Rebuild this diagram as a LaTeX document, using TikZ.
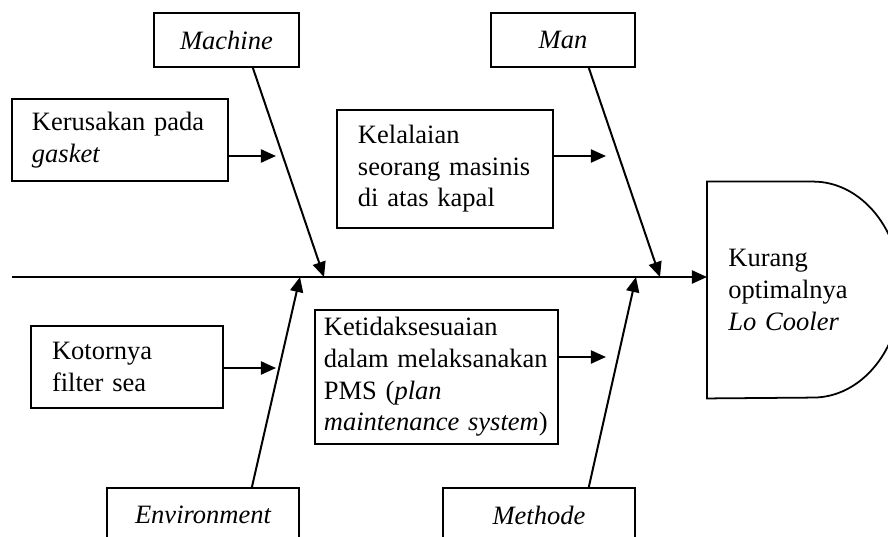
\documentclass[tikz,border=0pt]{standalone}
\usepackage{fontspec}
\setmainfont{Liberation Serif}
\usetikzlibrary{arrows.meta,positioning}

\begin{document}
\begin{tikzpicture}[
    x=0.4528pt, y=-0.4528pt,
    font=\fontsize{12}{14.3}\selectfont,
    category/.style={rectangle, draw, line width=0.8pt, minimum height=24.5pt, inner sep=0pt, font=\fontsize{12}{14.3}\selectfont\itshape},
    cause/.style={rectangle, draw, line width=0.8pt, align=left, inner sep=0pt},
    arrow/.style={-{Triangle[length=6.8pt,width=5.9pt]}, line width=0.9pt}
]
\useasboundingbox (0,0) rectangle (888,536);
\clip (0,0) rectangle (888,536);

% Categories
\node[category, minimum width=65.7pt] (machine) at (226.5,40) {Machine};
\node[category, minimum width=65.2pt] (man) at (563,40) {Man};
\node[category, minimum width=86.9pt] (environment) at (203,515) {Environment};
\node[category, minimum width=86.9pt] (methode) at (539,515) {Methode};

% Causes
\node[cause, minimum width=97.8pt, minimum height=37.1pt, text width=79.7pt] (gasket) at (120,140) {Kerusakan pada\\\textit{gasket}};
\node[cause, minimum width=97.8pt, minimum height=53.4pt, text width=78.8pt] (masinis) at (445,169) {Kelalaian\\seorang masinis\\di atas kapal};
\node[cause, minimum width=86.9pt, minimum height=37.1pt, text width=67.9pt] (filter) at (127,367) {Kotornya\\filter sea};
\node[cause, minimum width=110pt, minimum height=60.7pt, text width=102pt] (pms) at (436.5,377) {Ketidaksesuaian\\dalam melaksanakan\\PMS (\textit{plan}\\\textit{maintenance system})};

% Effect
\node[align=left, anchor=west, inner xsep=9.5pt, inner ysep=0pt, minimum height=97.8pt, text width=56.6pt] (effect) at (707,290) {Kurang\\optimalnya\\\textit{Lo Cooler}};
\draw[line width=0.8pt] (effect.north west) -- ++(106,0) arc[start angle=-90, end angle=90, x radius=88, y radius=108] -- (effect.south west) -- cycle;

% Spine
\coordinate (spine) at (12,277);
\draw[arrow] (spine) -- (effect.west |- spine);

% Bones
\coordinate (mc) at (324,277);
\coordinate (mn) at (660,277);
\coordinate (en) at (300,277);
\coordinate (me) at (636,277);
\draw[arrow] ([xshift=-21.3pt]machine.south east) -- (mc);
\draw[arrow] ([xshift=-21.3pt]man.south east) -- (mn);
\draw[arrow] ([xshift=-21.7pt]environment.north east) -- (en);
\draw[arrow] ([xshift=-21.3pt]methode.north east) -- (me);

% Cause arrows
\coordinate (t1) at (276,156);
\coordinate (t2) at (606,156);
\coordinate (t3) at (276,368);
\coordinate (t4) at (606,357);
\draw[arrow] (gasket.east |- t1) -- (t1);
\draw[arrow] (masinis.east |- t2) -- (t2);
\draw[arrow] (filter.east |- t3) -- (t3);
\draw[arrow] (pms.east |- t4) -- (t4);

\end{tikzpicture}
\end{document}
